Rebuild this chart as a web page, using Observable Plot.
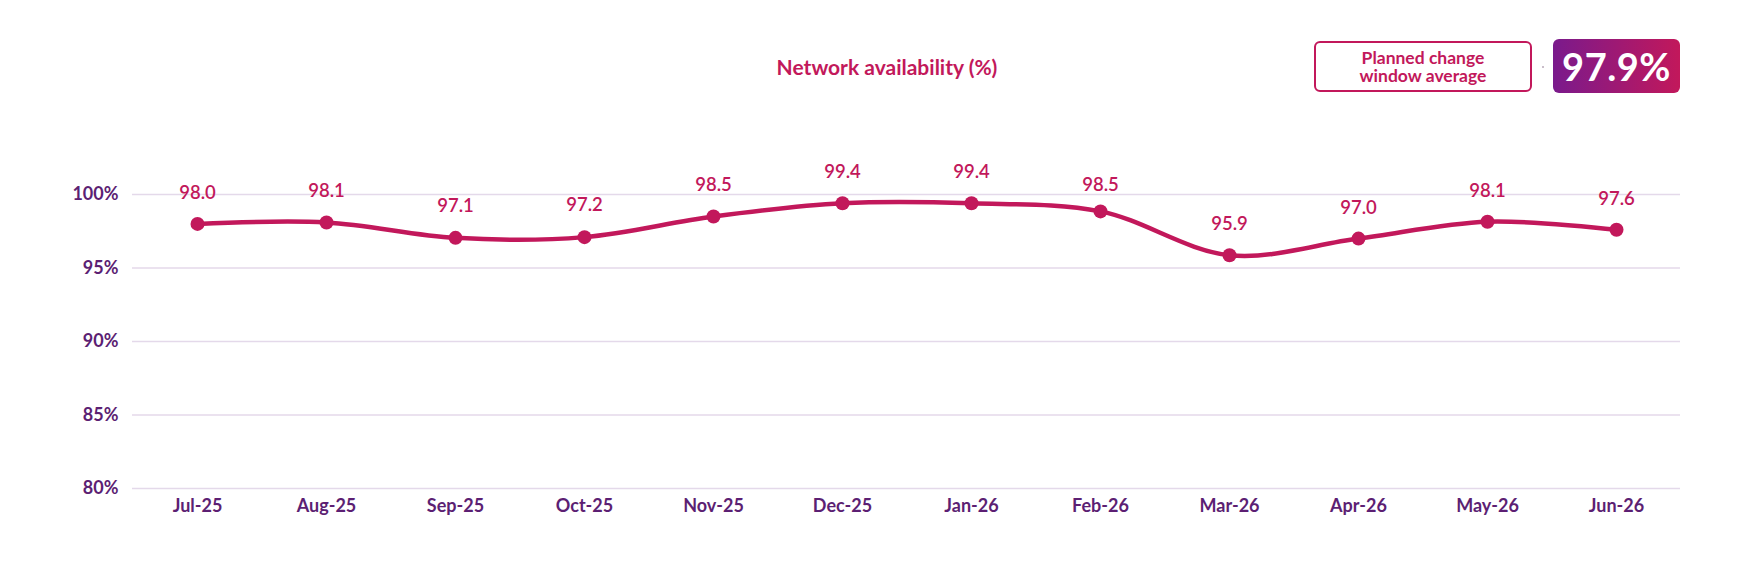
<!DOCTYPE html>
<html>
<head>
<meta charset="utf-8">
<script src="https://cdn.jsdelivr.net/npm/d3@7"></script>
<script src="https://cdn.jsdelivr.net/npm/@observablehq/plot@0.6"></script>
<style>
  html, body { margin: 0; padding: 0; background: #fff; overflow: hidden; }
  body { font-family: Lato, "Noto Sans", sans-serif; width: 1760px; }
  #header { position: relative; height: 120px; width: 1760px; }
  #title { position: absolute; left: 887px; top: 55px; transform: translateX(-50%);
    font-size: 21px; line-height: 24px; font-weight: 700; color: #c2185b; white-space: nowrap; }
  #legendBox { position: absolute; left: 1314px; top: 41px; width: 218px; height: 51px; box-sizing: border-box;
    border: 2px solid #c2185b; border-radius: 6px; display: flex; align-items: center; justify-content: center;
    text-align: center; color: #c2185b; font-weight: 700; font-size: 17.5px; line-height: 18px; }
  #dot { position: absolute; left: 1542px; top: 66px; width: 2px; height: 2px; border-radius: 1px; background: #b8a8b8; }
  #valueBox { position: absolute; left: 1553px; top: 39px; width: 127px; height: 54px; border-radius: 6px;
    background: linear-gradient(90deg, #7a1a8c, #c2185b); color: #fff; font-weight: 700; font-size: 38px;
    display: flex; align-items: center; justify-content: center; letter-spacing: 0.5px; }
  #chart svg { display: block; }
</style>
</head>
<body>
<div id="header">
  <div id="title"></div>
  <div id="legendBox"></div>
  <div id="dot"></div>
  <div id="valueBox"></div>
</div>
<div id="chart"></div>
<script>
const titleText = "Network availability (%)";
const legendLines = ["Planned change", "window average"];
const averageText = "97.9%";

const months = ["Jul-25","Aug-25","Sep-25","Oct-25","Nov-25","Dec-25","Jan-26","Feb-26","Mar-26","Apr-26","May-26","Jun-26"];
const values = [98.0, 98.1, 97.05, 97.1, 98.5, 99.4, 99.4, 98.85, 95.87, 97.0, 98.15, 97.6];
const labels = [98.0, 98.1, 97.1, 97.2, 98.5, 99.4, 99.4, 98.5, 95.9, 97.0, 98.1, 97.6];
const yTicks = [80, 85, 90, 95, 100];

document.getElementById("title").textContent = titleText;
document.getElementById("legendBox").innerHTML = legendLines.join("<br>");
document.getElementById("valueBox").textContent = averageText;

const data = months.map((m, i) => ({month: m, value: values[i], label: labels[i]}));

const crimson = "#c2185b";
const purple = "#5c1f73";

const chart = Plot.plot({
  width: 1760,
  height: 446,
  marginTop: 74,
  marginBottom: 78,
  marginLeft: 132,
  marginRight: 80,
  style: {fontFamily: "Lato, 'Noto Sans', sans-serif", background: "#fff"},
  x: {type: "point", domain: months, padding: 0.5, label: null},
  y: {domain: [80, 100], label: null},
  marks: [
    Plot.ruleY(yTicks, {stroke: "#e4d9ea", strokeWidth: 1.5}),
    Plot.axisY(yTicks, {tickSize: 0, tickPadding: 14, tickFormat: d => d + "%", fontSize: 18, fontWeight: 700, fill: purple, label: null}),
    Plot.axisX({tickSize: 0, tickPadding: 11, fontSize: 18, fontWeight: 700, fill: purple, label: null}),
    Plot.line(data, {x: "month", y: "value", stroke: crimson, strokeWidth: 4.5, curve: "catmull-rom"}),
    Plot.dot(data, {x: "month", y: "value", r: 7, fill: crimson}),
    Plot.text(data, {x: "month", y: "label", text: d => d.label.toFixed(1), dy: -31, fontSize: 18.5, fontWeight: 600, fill: crimson})
  ]
});
document.getElementById("chart").appendChild(chart);
</script>
</body>
</html>
